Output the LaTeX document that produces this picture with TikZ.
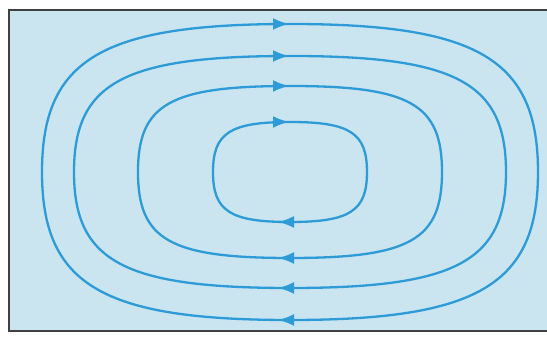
\documentclass[tikz,border=0pt]{standalone}
\usetikzlibrary{arrows.meta}
\definecolor{fondo}{RGB}{202,228,240}
\definecolor{linea}{RGB}{45,155,215}
\begin{document}
\begin{tikzpicture}[
    x=1pt, y=1pt, >=Latex,
    flusso/.style={draw=linea, line width=2.3pt, line cap=round},
    freccia/.style={linea, line width=2.3pt, -{Latex[length=16pt,width=12pt]}},
    cornice/.style={draw=black!75, line width=1.6pt}
  ]
  \useasboundingbox (0,0) rectangle (547,339);

  % sfondo e cornice
  \fill[fondo] (9,8) rectangle (547,329);
  \draw[cornice] (547,329) -- (9,329) -- (9,8) -- (547,8);

  % centro delle linee di flusso
  \coordinate (c) at (290,167);

  % linee di flusso chiuse (semiassi a/b, rotondita k)
  \foreach \a/\b/\k in {77/50/0.78, 152/86/0.79, 216/116/0.77, 248/148/0.76} {
    \draw[flusso] ([shift={(\a,0)}]c)
      .. controls +(0,\k*\b) and +(\k*\a,0) .. ([shift={(0,\b)}]c)
      .. controls +(-\k*\a,0) and +(0,\k*\b) .. ([shift={(-\a,0)}]c)
      .. controls +(0,-\k*\b) and +(-\k*\a,0) .. ([shift={(0,-\b)}]c)
      .. controls +(\k*\a,0) and +(0,-\k*\b) .. ([shift={(\a,0)}]c);
    % frecce: verso destra in alto, verso sinistra in basso
    \draw[freccia] ([shift={(-15,\b)}]c) -- ([shift={(-1,\b)}]c);
    \draw[freccia] ([shift={(3,-\b)}]c) -- ([shift={(-12,-\b)}]c);
  }

\end{tikzpicture}
\end{document}
